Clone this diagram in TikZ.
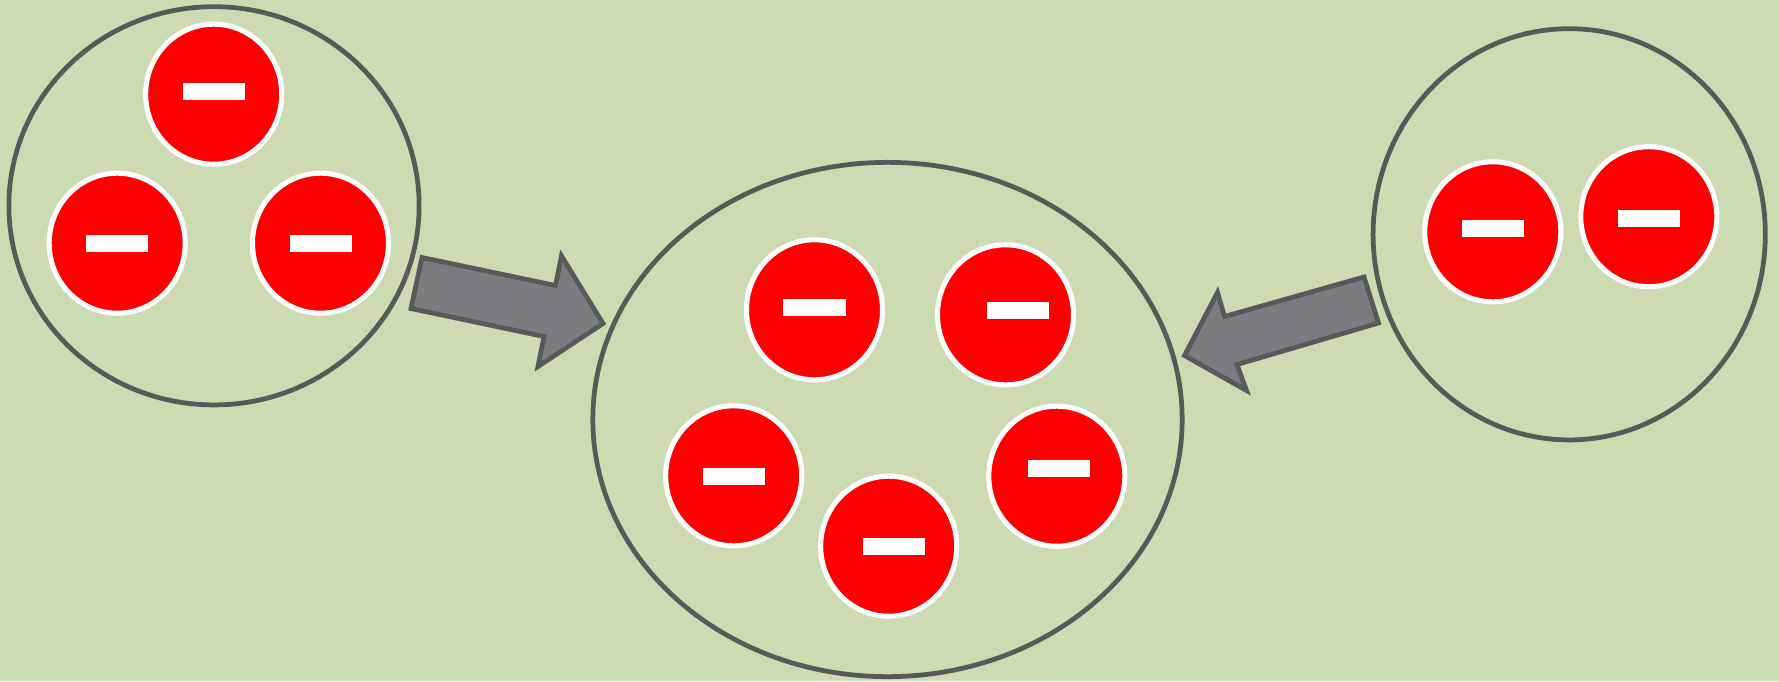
\documentclass[tikz,border=0pt]{standalone}
\usetikzlibrary{shapes.geometric}
\definecolor{bg}{RGB}{205,219,179}
\definecolor{rim}{RGB}{88,89,91}
\definecolor{arrfill}{RGB}{123,124,128}
\definecolor{charge}{RGB}{255,0,0}
\tikzset{
  group/.style={ellipse, draw=rim, line width=1.35pt, inner sep=0pt},
  ion/.style={ellipse, draw=white, fill=charge, line width=1.45pt, inner sep=0pt,
              minimum width=1.36cm, minimum height=1.40cm},
  minus/.style={rectangle, fill=white, inner sep=0pt, minimum width=0.623cm, minimum height=0.17cm},
  blockarrow/.style={draw=rim, fill=arrfill, line width=1.35pt, line join=miter}
}
\begin{document}
\begin{tikzpicture}[x=0.01cm,y=-0.01cm]
\fill[bg] (0,0) rectangle (1779,681);
\useasboundingbox (0,0) rectangle (1779,681);
% groups
\node[group, minimum width=4.10cm, minimum height=3.98cm] (gl) at (214,205.8) {};
\node[group, minimum width=5.89cm, minimum height=5.14cm] (gm) at (887.5,419.5) {};
\node[group, minimum width=3.92cm, minimum height=4.11cm] (gr) at (1569.2,234.3) {};
% left group ions
\node[ion] (i1) at (213.7,94.2) {};
\node[minus] (m1) at (214,91.5) {};
\node[ion] (i2) at (117.2,243.2) {};
\node[minus] (m2) at (117.2,243.3) {};
\node[ion] (i3) at (320.5,243.2) {};
\node[minus] (m3) at (320.8,243.3) {};
% middle group ions
\node[ion] (i4) at (814.5,309.8) {};
\node[minus] (m4) at (814.5,307.2) {};
\node[ion] (i5) at (1005.5,314.8) {};
\node[minus] (m5) at (1018.2,310.2) {};
\node[ion] (i6) at (733.7,475.8) {};
\node[minus] (m6) at (733.7,476) {};
\node[ion] (i7) at (888.7,546.2) {};
\node[minus] (m7) at (894,546.3) {};
\node[ion] (i8) at (1056.8,476.2) {};
\node[minus] (m8) at (1058.8,468.5) {};
% right group ions
\node[ion] (i9) at (1492.8,231.8) {};
\node[minus] (m9) at (1492.8,228.5) {};
\node[ion] (i10) at (1648.8,216.7) {};
\node[minus] (m10) at (1649.2,218.7) {};
% arrows
\draw[blockarrow] (422,257.5) -- (555.5,285.5) -- (561.5,256) -- (603,323.5)
  -- (538,366.5) -- (544,336.5) -- (411,308.5) -- cycle;
\draw[blockarrow] (1364,277) -- (1378.5,323) -- (1237,364.5) -- (1246.5,390.5)
  -- (1184.5,355.5) -- (1217.5,292.5) -- (1224.5,316.5) -- cycle;
\end{tikzpicture}
\end{document}
